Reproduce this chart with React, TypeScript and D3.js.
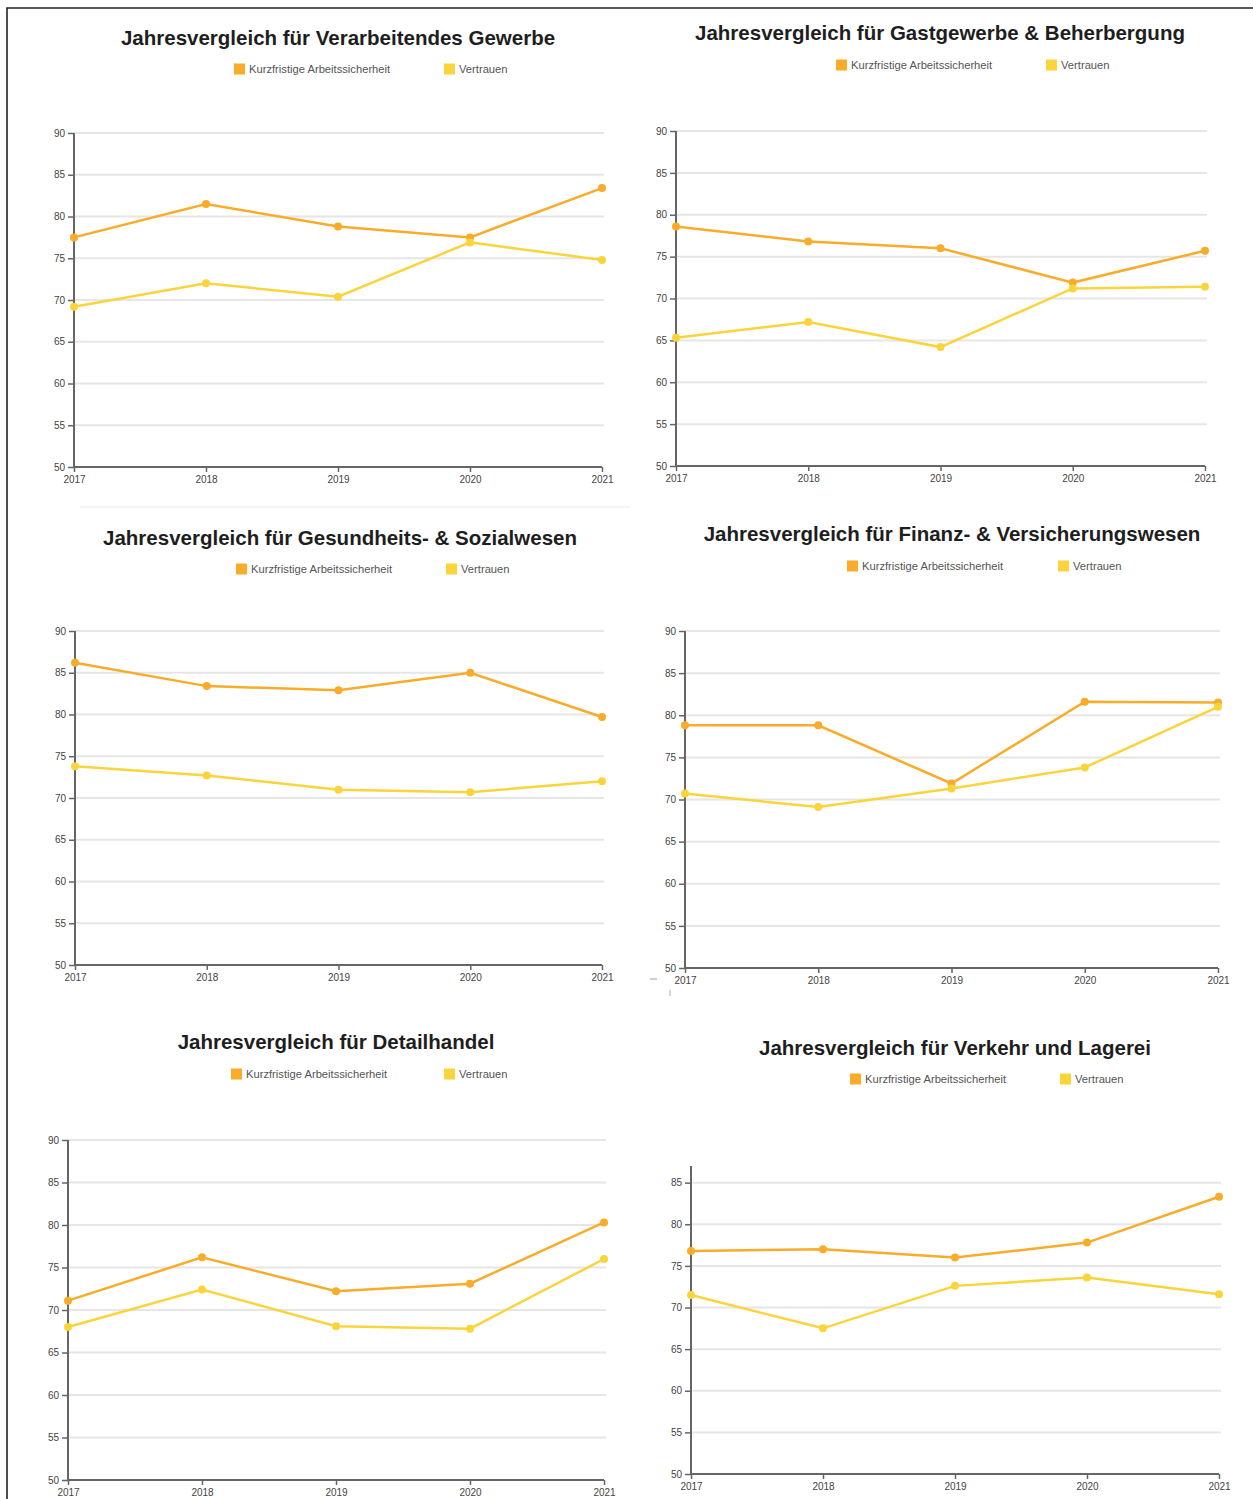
import { useEffect, useRef } from 'react'
import * as d3 from 'd3'

// Values
const years = [2017, 2018, 2019, 2020, 2021]
const seriesNames = ['Kurzfristige Arbeitssicherheit', 'Vertrauen']
const seriesColors = ['#f9ac2a', '#fbd43c']

const titleVerarbeitend = 'Jahresvergleich für Verarbeitendes Gewerbe'
const titleGastgewerbe = 'Jahresvergleich für Gastgewerbe & Beherbergung'
const titleGesundheit = 'Jahresvergleich für Gesundheits- & Sozialwesen'
const titleFinanz = 'Jahresvergleich für Finanz- & Versicherungswesen'
const titleDetailhandel = 'Jahresvergleich für Detailhandel'
const titleVerkehr = 'Jahresvergleich für Verkehr und Lagerei'

const verarbeitendSicherheit = [77.5, 81.5, 78.8, 77.5, 83.4]
const verarbeitendVertrauen = [69.2, 72.0, 70.4, 76.9, 74.8]
const gastgewerbeSicherheit = [78.6, 76.8, 76.0, 71.9, 75.7]
const gastgewerbeVertrauen = [65.3, 67.2, 64.2, 71.2, 71.4]
const gesundheitSicherheit = [86.2, 83.4, 82.9, 85.0, 79.7]
const gesundheitVertrauen = [73.8, 72.7, 71.0, 70.7, 72.0]
const finanzSicherheit = [78.8, 78.8, 71.9, 81.6, 81.5]
const finanzVertrauen = [70.7, 69.1, 71.3, 73.8, 81.0]
const detailhandelSicherheit = [71.1, 76.2, 72.2, 73.1, 80.3]
const detailhandelVertrauen = [68.0, 72.4, 68.1, 67.8, 76.0]
const verkehrSicherheit = [76.8, 77.0, 76.0, 77.8, 83.3]
const verkehrVertrauen = [71.5, 67.5, 72.6, 73.6, 71.6]

const yTicksFull = [50, 55, 60, 65, 70, 75, 80, 85, 90]
const yTicksShort = [50, 55, 60, 65, 70, 75, 80, 85]

interface Panel {
  title: string
  a: number[]
  b: number[]
  ticks: number[]
  yMax: number
  x0: number
  x1: number
  yTop: number
  yBot: number
  titleX: number
  titleY: number
  legendY: number
  legendX1: number
  legendX2: number
}

// screen layout of each panel in the collage
const panels: Panel[] = [
  { title: titleVerarbeitend, a: verarbeitendSicherheit, b: verarbeitendVertrauen, ticks: yTicksFull, yMax: 90,
    x0: 74, x1: 602, yTop: 133, yBot: 467, titleX: 338, titleY: 45, legendY: 69, legendX1: 234, legendX2: 444 },
  { title: titleGastgewerbe, a: gastgewerbeSicherheit, b: gastgewerbeVertrauen, ticks: yTicksFull, yMax: 90,
    x0: 676, x1: 1205, yTop: 131, yBot: 466, titleX: 940, titleY: 40, legendY: 65, legendX1: 836, legendX2: 1046 },
  { title: titleGesundheit, a: gesundheitSicherheit, b: gesundheitVertrauen, ticks: yTicksFull, yMax: 90,
    x0: 75, x1: 602, yTop: 631, yBot: 965, titleX: 340, titleY: 545, legendY: 569, legendX1: 236, legendX2: 446 },
  { title: titleFinanz, a: finanzSicherheit, b: finanzVertrauen, ticks: yTicksFull, yMax: 90,
    x0: 685, x1: 1218, yTop: 631, yBot: 968, titleX: 952, titleY: 541, legendY: 566, legendX1: 847, legendX2: 1058 },
  { title: titleDetailhandel, a: detailhandelSicherheit, b: detailhandelVertrauen, ticks: yTicksFull, yMax: 90,
    x0: 68, x1: 604, yTop: 1140, yBot: 1480, titleX: 336, titleY: 1049, legendY: 1074, legendX1: 231, legendX2: 444 },
  { title: titleVerkehr, a: verkehrSicherheit, b: verkehrVertrauen, ticks: yTicksShort, yMax: 87,
    x0: 691, x1: 1219, yTop: 1166, yBot: 1474, titleX: 955, titleY: 1055, legendY: 1079, legendX1: 850, legendX2: 1060 },
]

const W = 1253
const H = 1499
const FONT = '"Liberation Sans", Arial, sans-serif'

export default function App() {
  const svgRef = useRef<SVGSVGElement>(null)

  useEffect(() => {
    if (!svgRef.current) return
    const svg = d3.select(svgRef.current)
    svg.selectAll('*').remove()

    svg.append('rect').attr('width', W).attr('height', H).attr('fill', '#fff')

    // outer frame of the screenshot
    svg.append('path')
      .attr('d', `M7,${H} L7,8 L${W},8`)
      .attr('fill', 'none')
      .attr('stroke', '#222')
      .attr('stroke-width', 1.6)

    // faint separator under the first row
    svg.append('line')
      .attr('x1', 80).attr('x2', 630).attr('y1', 507).attr('y2', 507)
      .attr('stroke', '#f2f2f2').attr('stroke-width', 1.5)

    // small stray marks near the 4th panel
    svg.append('line').attr('x1', 650).attr('x2', 657).attr('y1', 979).attr('y2', 979)
      .attr('stroke', '#9fb3cf').attr('stroke-width', 1.2)
    svg.append('line').attr('x1', 670).attr('x2', 670).attr('y1', 990).attr('y2', 996)
      .attr('stroke', '#9fb3cf').attr('stroke-width', 1)

    panels.forEach(p => {
      const g = svg.append('g')

      const x = d3.scalePoint<number>().domain(years).range([p.x0, p.x1])
      const y = d3.scaleLinear().domain([50, p.yMax]).range([p.yBot, p.yTop])

      // title
      g.append('text')
        .attr('x', p.titleX)
        .attr('y', p.titleY)
        .attr('text-anchor', 'middle')
        .attr('font-family', FONT)
        .attr('font-weight', 'bold')
        .attr('font-size', 20.5)
        .attr('fill', '#1e1e1e')
        .text(p.title)

      // legend
      const legendXs = [p.legendX1, p.legendX2]
      seriesNames.forEach((name, i) => {
        g.append('rect')
          .attr('x', legendXs[i])
          .attr('y', p.legendY - 5.5)
          .attr('width', 11)
          .attr('height', 11)
          .attr('fill', seriesColors[i])
        g.append('text')
          .attr('x', legendXs[i] + 15)
          .attr('y', p.legendY + 4)
          .attr('font-family', FONT)
          .attr('font-size', 11.2)
          .attr('fill', '#555')
          .text(name)
      })

      // gridlines
      g.append('g')
        .selectAll('line')
        .data(p.ticks.filter(t => t > 50))
        .join('line')
        .attr('x1', p.x0)
        .attr('x2', p.x1 + 2)
        .attr('y1', d => y(d))
        .attr('y2', d => y(d))
        .attr('stroke', '#e6e6e6')
        .attr('stroke-width', 2)

      // y axis
      const yAxis = d3.axisLeft(y).tickValues(p.ticks).tickSize(6).tickSizeOuter(0).tickPadding(3)
      const ya = g.append('g').attr('transform', `translate(${p.x0},0)`).call(yAxis)
      ya.select('.domain')
        .attr('d', `M0,${p.yTop}V${p.yBot}`)
        .attr('stroke', '#666').attr('stroke-width', 2)
      ya.selectAll('.tick line').attr('stroke', '#666').attr('stroke-width', 1.5)
      ya.selectAll('.tick text')
        .attr('font-family', FONT)
        .attr('font-size', 10)
        .attr('fill', '#444')

      // x axis
      const xAxis = d3.axisBottom(x).tickSize(5).tickSizeOuter(0).tickPadding(4).tickFormat(d3.format('d'))
      const xa = g.append('g').attr('transform', `translate(0,${p.yBot})`).call(xAxis)
      xa.select('.domain')
        .attr('d', `M${p.x0},0H${p.x1}`)
        .attr('stroke', '#666').attr('stroke-width', 2)
      xa.selectAll('.tick line').attr('stroke', '#666').attr('stroke-width', 1.5)
      xa.selectAll('.tick text')
        .attr('font-family', FONT)
        .attr('font-size', 10)
        .attr('fill', '#444')

      // lines + points
      const line = d3.line<number>()
        .x((_, i) => x(years[i])!)
        .y(d => y(d))

      const series = [p.a, p.b]
      series.forEach((vals, i) => {
        g.append('path')
          .datum(vals)
          .attr('d', line)
          .attr('fill', 'none')
          .attr('stroke', seriesColors[i])
          .attr('stroke-width', 2.5)
        g.append('g')
          .selectAll('circle')
          .data(vals)
          .join('circle')
          .attr('cx', (_, j) => x(years[j])!)
          .attr('cy', d => y(d))
          .attr('r', 4)
          .attr('fill', seriesColors[i])
      })
    })
  }, [])

  return (
    <svg
      ref={svgRef}
      width={W}
      height={H}
      style={{ position: 'absolute', left: 0, top: 0, display: 'block' }}
    />
  )
}
